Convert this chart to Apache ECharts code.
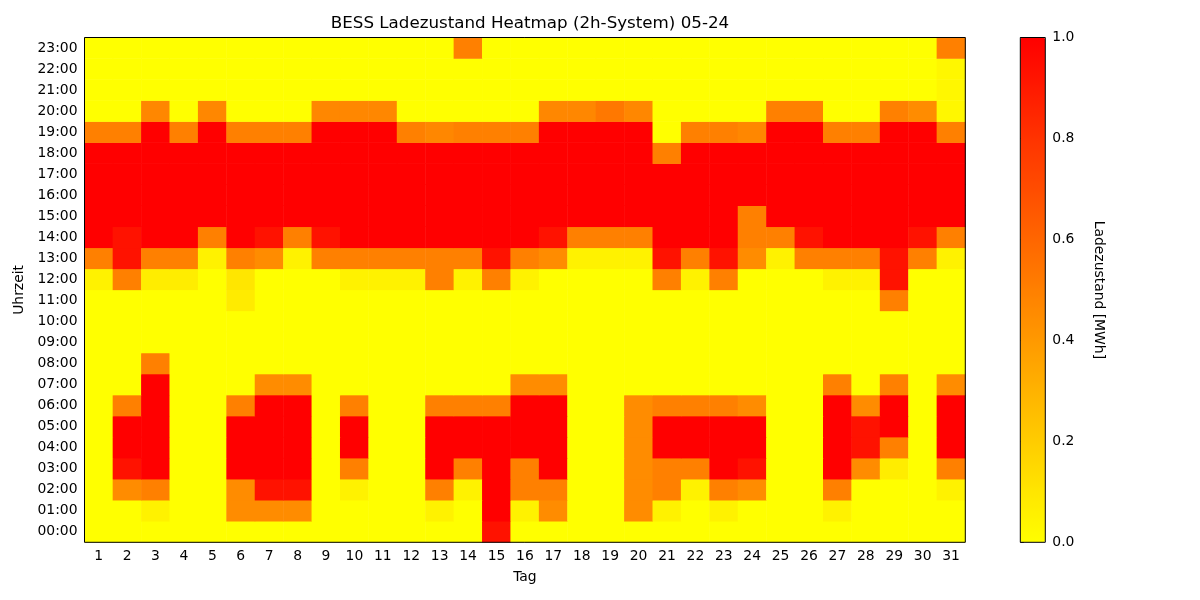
<!DOCTYPE html>
<html><head><meta charset="utf-8">
<script src="https://cdn.jsdelivr.net/npm/echarts@6/dist/echarts.min.js"></script>
<style>html,body{margin:0;padding:0;background:#fff}#c{width:1200px;height:600px}</style>
</head><body><div id="c"></div>
<script>
const days = ['1','2','3','4','5','6','7','8','9','10','11','12','13','14','15','16','17','18','19','20','21','22','23','24','25','26','27','28','29','30','31'];
const hours = ['00:00','01:00','02:00','03:00','04:00','05:00','06:00','07:00','08:00','09:00','10:00','11:00','12:00','13:00','14:00','15:00','16:00','17:00','18:00','19:00','20:00','21:00','22:00','23:00'];
const colorbarTicks = [0, 0.2, 0.4, 0.6, 0.8, 1.0];

// state of charge per hour, days 1..31
const h00 = [0,0,0,0,0, 0,0,0,0,0, 0,0,0,0,0.93, 0,0,0,0,0, 0,0,0,0,0, 0,0,0,0,0, 0];
const h01 = [0,0,0.05,0,0, 0.45,0.45,0.45,0,0, 0,0,0.05,0,1, 0.05,0.45,0,0,0.45, 0.05,0,0.05,0,0, 0,0.05,0,0,0, 0];
const h02 = [0,0.45,0.5,0,0, 0.45,0.93,0.93,0,0.05, 0,0,0.5,0.05,1, 0.5,0.5,0,0,0.45, 0.5,0.05,0.5,0.45,0, 0,0.5,0,0,0, 0.05];
const h03 = [0,0.93,1,0,0, 1,1,1,0,0.5, 0,0,1,0.5,1, 0.5,1,0,0,0.45, 0.5,0.5,1,0.93,0, 0,1,0.45,0.07,0, 0.5];
const h04 = [0,1,1,0,0, 1,1,1,0,1, 0,0,1,1,1, 1,1,0,0,0.45, 1,1,1,1,0, 0,1,0.93,0.5,0, 1];
const h05 = [0,1,1,0,0, 1,1,1,0,1, 0,0,1,1,1, 1,1,0,0,0.45, 1,1,1,1,0, 0,1,0.93,1,0, 1];
const h06 = [0,0.5,1,0,0, 0.5,1,1,0,0.5, 0,0,0.5,0.5,0.5, 1,1,0,0,0.45, 0.5,0.5,0.5,0.45,0, 0,1,0.45,1,0, 1];
const h07 = [0,0,1,0,0, 0,0.45,0.45,0,0, 0,0,0,0,0, 0.45,0.45,0,0,0, 0,0,0,0,0, 0,0.5,0,0.5,0, 0.45];
const h08 = [0,0,0.5,0,0, 0,0,0,0,0, 0,0,0,0,0, 0,0,0,0,0, 0,0,0,0,0, 0,0,0,0,0, 0];
const h09 = [0,0,0,0,0, 0,0,0,0,0, 0,0,0,0,0, 0,0,0,0,0, 0,0,0,0,0, 0,0,0,0,0, 0];
const h10 = [0,0,0,0,0, 0,0,0,0,0, 0,0,0,0,0, 0,0,0,0,0, 0,0,0,0,0, 0,0,0,0,0, 0];
const h11 = [0,0,0,0,0, 0.08,0,0,0,0, 0,0,0,0,0, 0,0,0,0,0, 0,0,0,0,0, 0,0,0,0.5,0, 0];
const h12 = [0.05,0.5,0.07,0.07,0, 0.1,0,0,0,0.05, 0.05,0.05,0.5,0.05,0.5, 0.05,0,0,0,0, 0.5,0.05,0.5,0,0, 0,0.05,0.05,0.93,0, 0];
const h13 = [0.5,0.93,0.5,0.5,0.05, 0.5,0.45,0.05,0.5,0.5, 0.5,0.5,0.5,0.5,0.93, 0.5,0.45,0.05,0.05,0.05, 0.93,0.5,0.93,0.45,0.05, 0.5,0.5,0.5,0.93,0.5, 0.05];
const h14 = [1,0.93,1,1,0.5, 1,0.93,0.5,0.93,1, 1,1,1,1,1, 1,0.93,0.5,0.5,0.5, 1,1,1,0.5,0.5, 0.93,1,1,1,0.93, 0.5];
const h15 = [1,1,1,1,1, 1,1,1,1,1, 1,1,1,1,1, 1,1,1,1,1, 1,1,1,0.5,1, 1,1,1,1,1, 1];
const h16 = [1,1,1,1,1, 1,1,1,1,1, 1,1,1,1,1, 1,1,1,1,1, 1,1,1,1,1, 1,1,1,1,1, 1];
const h17 = [1,1,1,1,1, 1,1,1,1,1, 1,1,1,1,1, 1,1,1,1,1, 1,1,1,1,1, 1,1,1,1,1, 1];
const h18 = [1,1,1,1,1, 1,1,1,1,1, 1,1,1,1,1, 1,1,1,1,1, 0.5,1,1,1,1, 1,1,1,1,1, 1];
const h19 = [0.5,0.5,1,0.5,1, 0.5,0.5,0.5,1,1, 1,0.5,0.47,0.5,0.5, 0.5,1,1,1,1, 0,0.5,0.5,0.47,1, 1,0.5,0.5,1,1, 0.5];
const h20 = [0,0,0.47,0,0.47, 0,0,0,0.47,0.47, 0.47,0,0,0,0, 0,0.47,0.47,0.53,0.47, 0,0,0,0,0.5, 0.5,0,0,0.5,0.45, 0.03];
const h21 = [0,0,0,0,0, 0,0,0,0,0, 0,0,0,0,0, 0,0,0,0,0, 0,0,0,0,0, 0,0,0,0,0, 0.03];
const h22 = [0,0,0,0,0, 0,0,0,0,0, 0,0,0,0,0, 0,0,0,0,0, 0,0,0,0,0, 0,0,0,0,0, 0.03];
const h23 = [0,0,0,0,0, 0,0,0,0,0, 0,0,0,0.5,0, 0,0,0,0,0, 0,0,0,0,0, 0,0,0,0,0, 0.5];

const socRows = [h00,h01,h02,h03,h04,h05,h06,h07,h08,h09,h10,h11,h12,h13,h14,h15,h16,h17,h18,h19,h20,h21,h22,h23];
const data = [];
socRows.forEach((row, y) => row.forEach((v, x) => data.push([x, y, v])));

const F = 'DejaVu Sans';
const tickStyle = {color:'#000', width:0.8};
const chart = echarts.init(document.getElementById('c'), null, {renderer:'canvas'});
chart.setOption({
  animation:false,
  textStyle:{fontFamily:F},
  title:{text:'BESS Ladezustand Heatmap (2h-System) 05-24', left:525, top:10, textAlign:'center',
         textStyle:{fontSize:16.7, fontWeight:'normal', color:'#000', fontFamily:F}},
  grid:[
    {left:84.5, top:37.5, width:880.8, height:504.8, show:true, borderColor:'#000', borderWidth:1, backgroundColor:'transparent', z:10},
    {left:1020.3, top:37.5, width:25, height:504.8, show:true, borderColor:'#000', borderWidth:1, backgroundColor:'transparent', z:10}
  ],
  xAxis:[
    {type:'category', data:days, gridIndex:0, name:'Tag', nameLocation:'middle', nameGap:28,
     nameTextStyle:{fontSize:13.9, color:'#000', fontFamily:F},
     axisLine:{show:false}, axisTick:{alignWithLabel:true, interval:0, length:3.5, lineStyle:tickStyle},
     axisLabel:{interval:0, fontSize:13.9, color:'#000', margin:7, fontFamily:F},
     splitLine:{show:false}, splitArea:{show:false}},
    {type:'value', gridIndex:1, show:false, min:0, max:1}
  ],
  yAxis:[
    {type:'category', data:hours, gridIndex:0, name:'Uhrzeit', nameLocation:'middle', nameGap:52, nameRotate:90,
     nameTextStyle:{fontSize:13.9, color:'#000', fontFamily:F},
     axisLine:{show:false}, axisTick:{alignWithLabel:true, interval:0, length:3.5, lineStyle:tickStyle},
     axisLabel:{interval:0, fontSize:13.9, color:'#000', margin:7, fontFamily:F},
     splitLine:{show:false}, splitArea:{show:false}},
    {type:'value', gridIndex:1, position:'right', min:colorbarTicks[0], max:colorbarTicks[colorbarTicks.length-1], interval:0.2,
     name:'Ladezustand [MWh]', nameLocation:'middle', nameGap:46, nameRotate:-90,
     nameTextStyle:{fontSize:13.9, color:'#000', fontFamily:F},
     axisLine:{show:false}, axisTick:{show:true, length:3.5, lineStyle:tickStyle},
     axisLabel:{fontSize:13.9, color:'#000', margin:7, fontFamily:F, formatter:v => v.toFixed(1)},
     splitLine:{show:false}}
  ],
  visualMap:{type:'continuous', min:0, max:1, seriesIndex:0, left:1020.3, top:37.5, itemWidth:25, itemHeight:504.8,
             padding:0, calculable:false, hoverLink:false, orient:'vertical',
             inRange:{color:['#ffff00','#ff0000']}},
  series:[{type:'heatmap', xAxisIndex:0, yAxisIndex:0, data:data, emphasis:{disabled:true}, progressive:0}]
});
</script>
</body></html>
